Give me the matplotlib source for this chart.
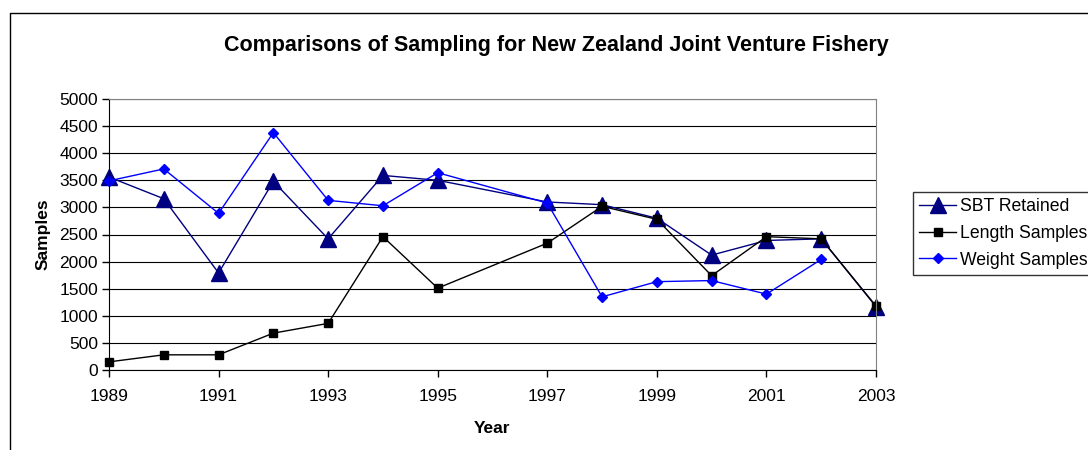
import numpy as np
import matplotlib
matplotlib.use("Agg")
import matplotlib.pyplot as plt
from matplotlib.lines import Line2D

plt.rcParams['font.family'] = ['Liberation Sans', 'DejaVu Sans']

# ---------------- data ----------------
years = [1989, 1990, 1991, 1992, 1993, 1994, 1995, 1997, 1998, 1999, 2000, 2001, 2002, 2003]
sbt_retained = [3560, 3160, 1790, 3480, 2420, 3590, 3500, 3100, 3050, 2800, 2120, 2390, 2420, 1170]
length_samples = [150, 280, 280, 680, 860, 2460, 1510, 2340, 3020, 2780, 1740, 2460, 2420, 1180]
weight_samples = [3490, 3710, 2890, 4380, 3130, 3030, 3640, 3080, 1350, 1630, 1650, 1400, 2040, np.nan]

xticks = list(range(1989, 2004, 2))
yticks = list(range(0, 5001, 500))

W, H = 1088, 450
fig = plt.figure(figsize=(W / 100, H / 100), dpi=100)

# plot area in pixel terms
left, right, top, bottom = 109, 876, 99, 370
ax = fig.add_axes([left / W, 1 - bottom / H, (right - left) / W, (bottom - top) / H])

ax.plot(years, sbt_retained, color='#000080', lw=1, marker='^', ms=11, label='SBT Retained', clip_on=False)
ax.plot(years, length_samples, color='black', lw=1, marker='s', ms=5.5, label='Length Samples', clip_on=False)
ax.plot(years, weight_samples, color='#0000FF', lw=1, marker='D', ms=5, label='Weight Samples', clip_on=False)

ax.set_xlim(1989, 2003)
ax.set_ylim(0, 5000)
ax.set_xticks(xticks)
ax.set_yticks(yticks)
ax.yaxis.grid(True, color='black', lw=0.8)
ax.set_axisbelow(True)
ax.tick_params(direction='out', length=5, width=1, labelsize=12.5, colors='black')
ax.tick_params(axis='x', pad=9)
ax.tick_params(axis='y', pad=3)
for side in ['top', 'right']:
    ax.spines[side].set_color('#808080')
for side in ['left', 'bottom']:
    ax.spines[side].set_color('black')

ax.set_xlabel('Year', fontsize=12.5, fontweight='bold', labelpad=12)
ax.set_ylabel('Samples', fontsize=12.5, fontweight='bold', labelpad=6)

fig.text(556 / W, 1 - 45 / H, 'Comparisons of Sampling for New Zealand Joint Venture Fishery',
         ha='center', va='center', fontsize=15.5, fontweight='bold')

# chart border (only left and top edges fall inside the image)
fig.add_artist(Line2D([10 / W, 10 / W, 1.01], [-0.01, 1 - 13 / H, 1 - 13 / H],
                      transform=fig.transFigure, color='black', lw=1))

leg = fig.legend(loc='upper left', bbox_to_anchor=(913 / W, 1 - 192 / H), frameon=True,
                 fancybox=False, edgecolor='black', fontsize=12.7, handlelength=2.1,
                 handletextpad=0.2, borderpad=0.35, labelspacing=0.55, borderaxespad=0)
leg.get_frame().set_linewidth(1)

fig.savefig('out.png', dpi=100)
